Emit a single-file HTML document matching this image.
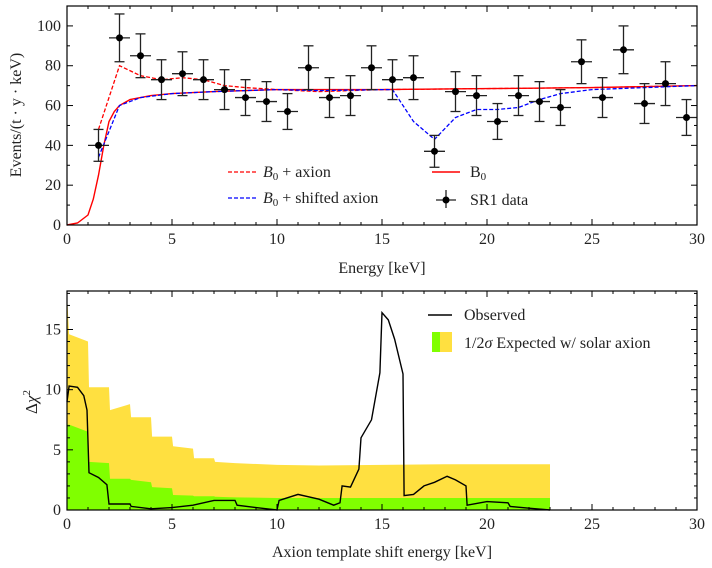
<!DOCTYPE html>
<html><head><meta charset="utf-8"><style>
body{margin:0;background:#fff;}
svg{display:block;}
svg text{font-family:"Liberation Serif",serif;fill:#222;}
</style></head><body>
<svg id="s" width="712" height="568" xmlns="http://www.w3.org/2000/svg"></svg>
<script>
// ---- top panel data ----
const binCenters=[1.5,2.5,3.5,4.5,5.5,6.5,7.5,8.5,9.5,10.5,11.5,12.5,13.5,14.5,15.5,16.5,17.5,18.5,19.5,20.5,21.5,22.5,23.5,24.5,25.5,26.5,27.5,28.5,29.5];
const dataRate=[40,94,85,73,76,73,68,64,62,57,79,64,65,79,73,74,37,67,65,52,65,62,59,82,64,88,61,71,54];
const dataErr=[8,12,11,10,11,10,10,9,10,9,11,10,10,11,10,11,8,10,10,9,10,10,9,11,10,12,10,11,9];
const b0E=[0,0.5,1,1.25,1.5,1.75,2,2.25,2.5,3,4,5,7,10,15,20,25,30];
const b0V=[0,1,5,13,25,40,52,57,60,63,65,66,67,68,68,68.5,69,70];
const axE=[1.5,2.5,3.5,4.5,5.5,6.5,7.5,8.5,10,12,15,20,25,30];
const axV=[48,80,75,73,74,73,70,69,68,67,68,68.5,69,70];
const shE=[1.5,2.5,3.5,5,7,10,12,15,15.5,16.5,17.5,18.5,19.5,20.5,21.5,22.5,23.5,25,30];
const shV=[34,60,64,66,67,68,67.5,68,68,52,43,54,58,58,59,63,66,68,70];
const topYTicks=[0,20,40,60,80,100];
const xTicks=[0,5,10,15,20,25,30];
// ---- bottom panel data ----
const bandX=[0,0.1,1,1.05,2,2.05,3,3.05,4,4.05,5,5.05,6,6.05,7,7.05,8,10,12,15,18,20,23];
const yellowV=[18,14.6,14,10.2,10.2,8.3,8.8,7.7,7.7,6.1,6.1,5.3,5.1,4.3,4.3,4.0,3.9,3.75,3.7,3.75,3.8,3.8,3.8];
const greenV=[7.1,7.1,6.5,4.0,3.9,2.6,2.6,2.5,2.3,1.9,1.8,1.25,1.2,1.15,1.15,1.1,1.05,1.0,1.0,1.0,1.0,1.0,1.0];
const obsX=[0,0.1,0.5,0.8,0.95,1.05,1.5,1.9,2,3,3.05,4,5,6,7,8,8.1,9,10,10.1,11,12,12.7,13,13.1,13.5,13.9,14,14.5,14.9,15,15.3,15.6,16,16.05,16.5,17,17.5,18.1,18.5,19,19.05,20,21,21.1,22,23];
const obsV=[9,10.3,10.2,9.5,8.3,3.1,2.7,2.1,0.5,0.5,0.3,0.1,0.2,0.4,0.8,0.8,0.4,0.2,0,0.8,1.3,0.9,0.4,0.6,2,1.9,3.4,6,7.5,11.4,16.4,15.8,14.2,11.3,1.2,1.3,2,2.3,2.8,2.5,2,0.4,0.7,0.6,0.3,0.15,0];
const botYTicks=[0,5,10,15];

const S=document.getElementById('s');const NS='http://www.w3.org/2000/svg';
const FF='Liberation Serif, serif';
function el(t,a,p){const e=document.createElementNS(NS,t);for(const k in a)e.setAttribute(k,a[k]);if(t==='text')e.setAttribute('font-family',FF);(p||S).appendChild(e);return e;}
const X0=67,X1=697;
const xs=v=>X0+(X1-X0)*v/30;
const T={top:6,bot:225,max:110};const B={top:291,bot:510,max:18.2};
const ty=v=>T.bot-(T.bot-T.top)*v/T.max;
const by=v=>B.bot-(B.bot-B.top)*v/B.max;
function pts(xa,ya,fy){return xa.map((x,i)=>xs(x).toFixed(1)+','+fy(ya[i]).toFixed(1)).join(' ');}
function axes(P,fy,yt,ymin,name,minStep){
  const g=el('g',{});
  for(let v=0;v<=30;v+=1){const x=xs(v);const L=v%5==0?6:3;
    el('line',{x1:x,x2:x,y1:P.bot,y2:P.bot-L,stroke:'#000','stroke-width':1},g);
    el('line',{x1:x,x2:x,y1:P.top,y2:P.top+L,stroke:'#000','stroke-width':1},g);}
  xTicks.forEach(v=>{const t=el('text',{x:xs(v),y:P.bot+19,'text-anchor':'middle','font-size':16},g);t.textContent=v;
    });
  for(let v=0;v<=P.max;v+=minStep){const y=fy(v);const L=yt.includes(v)?6:3;
    el('line',{x1:X0,x2:X0+L,y1:y,y2:y,stroke:'#000'},g);el('line',{x1:X1,x2:X1-L,y1:y,y2:y,stroke:'#000'},g);}
  yt.forEach(v=>{const t=el('text',{x:X0-6,y:fy(v)+5,'text-anchor':'end','font-size':16},g);t.textContent=v;
    });
  el('rect',{x:X0,y:P.top,width:X1-X0,height:P.bot-P.top,fill:'none',stroke:'#000','stroke-width':1.2},g);
}
// TOP
let l;
l=el('polyline',{points:pts(b0E,b0V,ty),fill:'none',stroke:'#f00','stroke-width':1.4});
l=el('polyline',{points:pts(axE,axV,ty),fill:'none',stroke:'#f00','stroke-width':1.3,'stroke-dasharray':'4,2'});
l=el('polyline',{points:pts(shE,shV,ty),fill:'none',stroke:'#00f','stroke-width':1.3,'stroke-dasharray':'4,2'});
binCenters.forEach((c,i)=>{const g=el('g',{});
  const x=xs(c),y=ty(dataRate[i]),y1=ty(dataRate[i]+dataErr[i]),y2=ty(dataRate[i]-dataErr[i]);
  el('line',{x1:xs(c-0.5),x2:xs(c+0.5),y1:y,y2:y,stroke:'#222','stroke-width':1.3},g);
  el('line',{x1:x,x2:x,y1:y1,y2:y2,stroke:'#222','stroke-width':1.3},g);
  el('line',{x1:x-5,x2:x+5,y1:y1,y2:y1,stroke:'#222','stroke-width':1.3},g);
  el('line',{x1:x-5,x2:x+5,y1:y2,y2:y2,stroke:'#222','stroke-width':1.3},g);
  el('circle',{cx:x,cy:y,r:3.5,fill:'#000'},g);});
axes(T,ty,topYTicks,0,'top',10);
function txt(x,y,s,o,name){const t=el('text',Object.assign({x:x,y:y,'font-size':16},o||{}));t.innerHTML=s;return t;}
txt(382,273,'Energy [keV]',{'text-anchor':'middle'},'top-x-axis-title');
txt(0,0,'Events/(t · y · keV)',{'text-anchor':'middle',transform:'translate(21,115) rotate(-90)'},'top-y-axis-title');
// top legend
let lg=el('g',{});
el('line',{x1:228,x2:256,y1:172,y2:172,stroke:'#f00','stroke-width':1.3,'stroke-dasharray':'4,2'},lg);
el('line',{x1:228,x2:256,y1:198,y2:198,stroke:'#00f','stroke-width':1.3,'stroke-dasharray':'4,2'},lg);
el('line',{x1:432,x2:460,y1:172,y2:172,stroke:'#f00','stroke-width':1.4},lg);
el('line',{x1:436,x2:456,y1:200,y2:200,stroke:'#222','stroke-width':1.3},lg);
el('line',{x1:446,x2:446,y1:190,y2:208,stroke:'#222','stroke-width':1.3},lg);
el('circle',{cx:446,cy:200,r:3.5,fill:'#000'},lg);
txt(263,177,'<tspan font-style="italic">B</tspan><tspan font-size="11" dy="3">0</tspan><tspan dy="-3"> + axion</tspan>',{},'legend-b0-axion');
txt(263,203,'<tspan font-style="italic">B</tspan><tspan font-size="11" dy="3">0</tspan><tspan dy="-3"> + shifted axion</tspan>',{},'legend-b0-shifted-axion');
txt(470,177,'B<tspan font-size="11" dy="3">0</tspan>',{},'legend-b0');
txt(470,205,'SR1 data',{},'legend-sr1-data');
// BOTTOM
l=el('polygon',{points:pts(bandX,yellowV,by)+' '+xs(23)+','+by(0)+' '+xs(0)+','+by(0),fill:'#ffe040'});
l=el('polygon',{points:pts(bandX,greenV,by)+' '+xs(23)+','+by(0)+' '+xs(0)+','+by(0),fill:'#80ff00'});
l=el('polyline',{points:pts(obsX,obsV,by),fill:'none',stroke:'#000','stroke-width':1.4});
axes(B,by,botYTicks,0,'bottom',1);
txt(382,557,'Axion template shift energy [keV]',{'text-anchor':'middle'},'bottom-x-axis-title');
txt(0,0,'Δ<tspan font-style="italic">χ</tspan><tspan font-size="11" dy="-7">2</tspan>',{'text-anchor':'middle',transform:'translate(37,402) rotate(-90)','font-size':17},'bottom-y-axis-title');
lg=el('g',{});
el('line',{x1:428,x2:452,y1:315,y2:315,stroke:'#000','stroke-width':1.4},lg);
el('rect',{x:432,y:332,width:8,height:20,fill:'#80ff00'},lg);
el('rect',{x:440,y:332,width:12,height:20,fill:'#ffe040'},lg);
txt(464,320,'Observed',{},'legend-observed');
txt(464,348,'1/2<tspan font-style="italic">σ</tspan> Expected w/ solar axion',{},'legend-expected');
</script>
</body></html>
